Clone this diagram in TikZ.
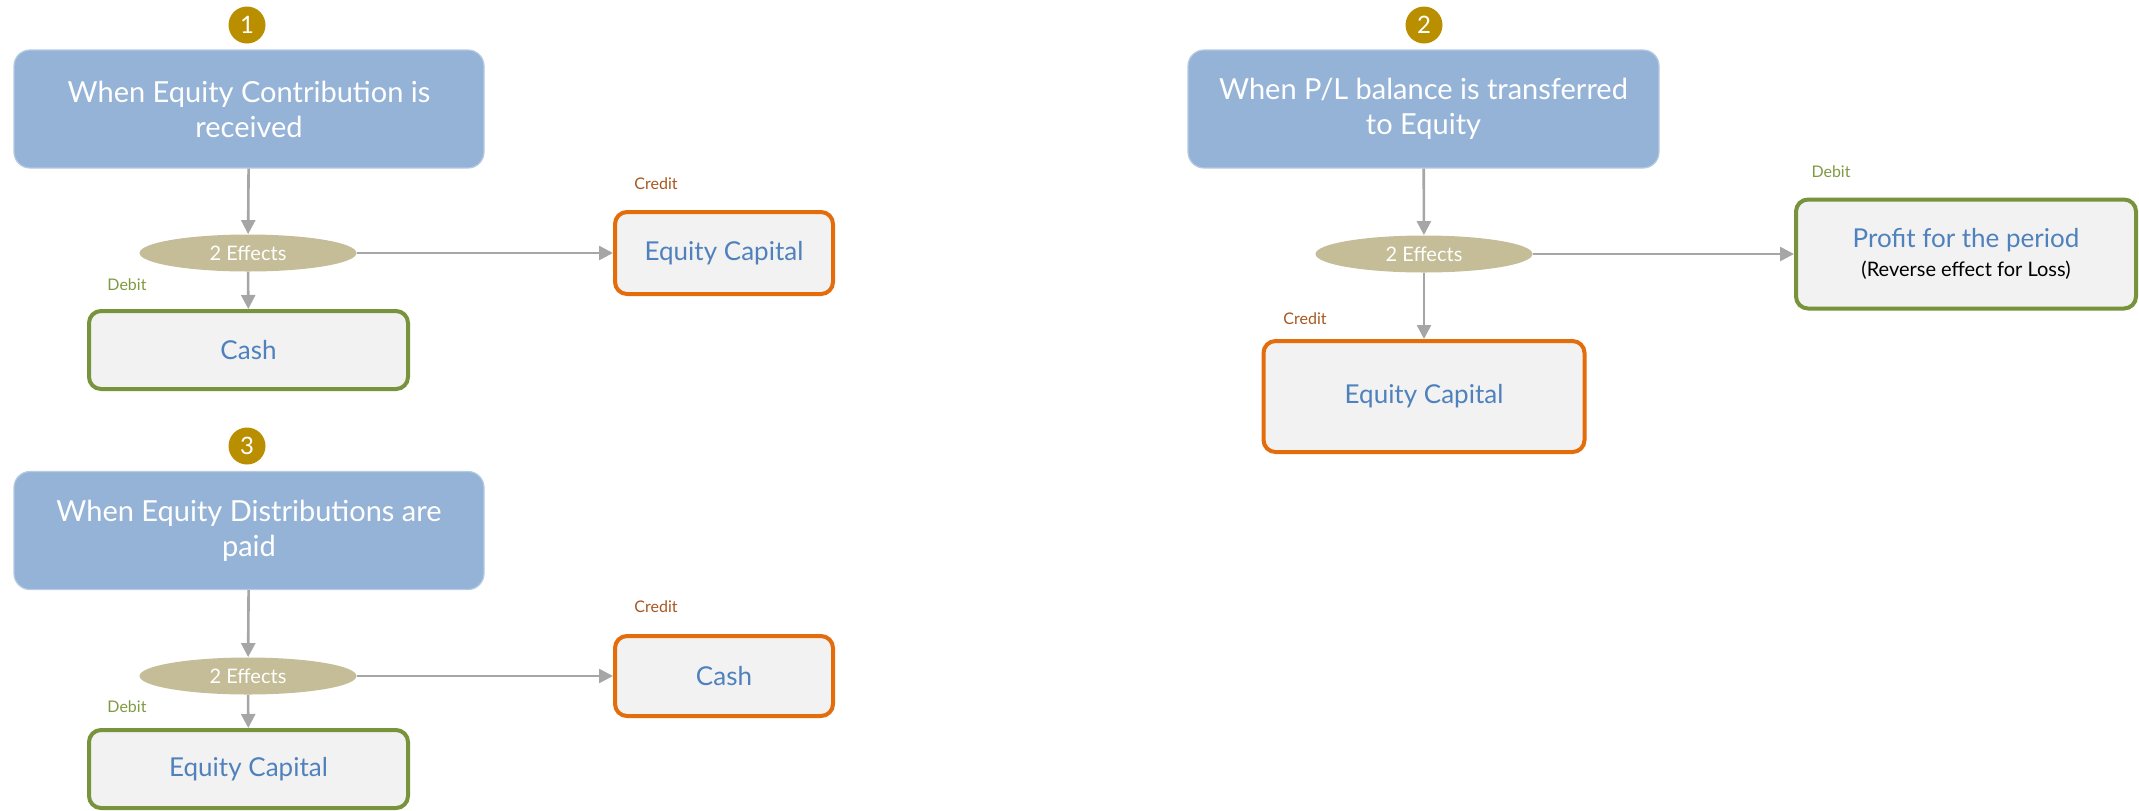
\documentclass[tikz,border=0pt]{standalone}
\usepackage{fontspec}
\setmainfont{Lato}
\usetikzlibrary{arrows.meta,shapes.geometric}
\definecolor{headblue}{HTML}{95B3D7}
\definecolor{boxgrey}{HTML}{F2F2F2}
\definecolor{greenline}{HTML}{77933C}
\definecolor{orangeline}{HTML}{E46C0A}
\definecolor{creditcol}{HTML}{A8561E}
\definecolor{debitcol}{HTML}{7E9A40}
\definecolor{effectfill}{HTML}{C4BD97}
\definecolor{goldnum}{HTML}{B98F00}
\definecolor{textblue}{HTML}{4F81BD}
\definecolor{arrowgrey}{HTML}{A6A6A6}
\tikzset{
  numdot/.style={circle,fill=goldnum,text=white,inner sep=0pt,minimum size=18.5pt,font=\fontsize{12}{12}\selectfont},
  headbox/.style={rectangle,rounded corners=8pt,fill=headblue,draw=headblue!70!white,line width=0.6pt,text=white,align=center,
    font=\fontsize{14.5}{17.5}\selectfont,minimum width=235pt,minimum height=59pt,inner sep=0pt},
  effect/.style={ellipse,fill=effectfill,text=white,minimum width=108.5pt,minimum height=18.5pt,inner sep=0pt,
    font=\fontsize{10}{10}\selectfont},
  acct/.style={rectangle,rounded corners=6pt,fill=boxgrey,line width=2pt,text=textblue,align=center,inner sep=0pt,
    font=\fontsize{13}{15.5}\selectfont},
  debitacct/.style={acct,draw=greenline},
  creditacct/.style={acct,draw=orangeline},
  debitlbl/.style={text=debitcol,font=\fontsize{8}{8}\selectfont,inner sep=0pt},
  creditlbl/.style={text=creditcol,font=\fontsize{8}{8}\selectfont,inner sep=0pt},
  flow/.style={draw=arrowgrey,line width=1.3pt,-{Triangle[length=7pt,width=7pt]}}
}
\begin{document}
\begin{tikzpicture}[x=0.5pt,y=-0.5pt]
\useasboundingbox (0,0) rectangle (2139,810);

% 1: equity contribution received
\node[numdot] (c1) at (247,25) {1};
\node[headbox] (h1) at (249,109) {When Equity Contribution is\\received};
\node[effect] (e1) at (248,253) {2 Effects};
\node[debitacct,minimum width=159.5pt,minimum height=39pt] (d1) at (248.5,350) {Cash};
\node[creditacct,minimum width=109pt,minimum height=41pt] (k1) at (724,253) {Equity Capital};
\node[debitlbl] (dl1) at (127,285) {Debit};
\node[creditlbl] (cl1) at (656,184) {Credit};
\draw[flow] (h1) -- (e1);
\draw[flow] (e1) -- (d1);
\draw[flow] (e1) -- (k1);

% 2: P/L balance transferred to equity
\node[numdot] (c2) at (1424,25) {2};
\node[headbox,minimum width=235.5pt] (h2) at (1423.5,109) {When P/L balance is transferred\\to Equity};
\node[effect] (e2) at (1424,254) {2 Effects};
\node[debitacct,minimum width=170pt,minimum height=54.5pt] (p2) at (1966,254)
  {Profit for the period\\[-1pt]{\color{black}\fontsize{10}{11}\selectfont(Reverse effect for Loss)}};
\node[creditacct,minimum width=160.5pt,minimum height=55.5pt] (q2) at (1424,396.5) {Equity Capital};
\node[debitlbl] (dl2) at (1831,172) {Debit};
\node[creditlbl] (cl2) at (1305,319) {Credit};
\draw[flow] (h2) -- (e2);
\draw[flow] (e2) -- (q2);
\draw[flow] (e2) -- (p2);

% 3: equity distributions paid
\node[numdot] (c3) at (247,446) {3};
\node[headbox] (h3) at (249,530.5) {When Equity Distributions are\\paid};
\node[effect] (e3) at (248,676) {2 Effects};
\node[debitacct,minimum width=159.5pt,minimum height=39pt] (d3) at (248.5,769) {Equity Capital};
\node[creditacct,minimum width=109pt,minimum height=40pt] (k3) at (724,676) {Cash};
\node[debitlbl] (dl3) at (127,707) {Debit};
\node[creditlbl] (cl3) at (656,607) {Credit};
\draw[flow] (h3) -- (e3);
\draw[flow] (e3) -- (d3);
\draw[flow] (e3) -- (k3);
\end{tikzpicture}
\end{document}
